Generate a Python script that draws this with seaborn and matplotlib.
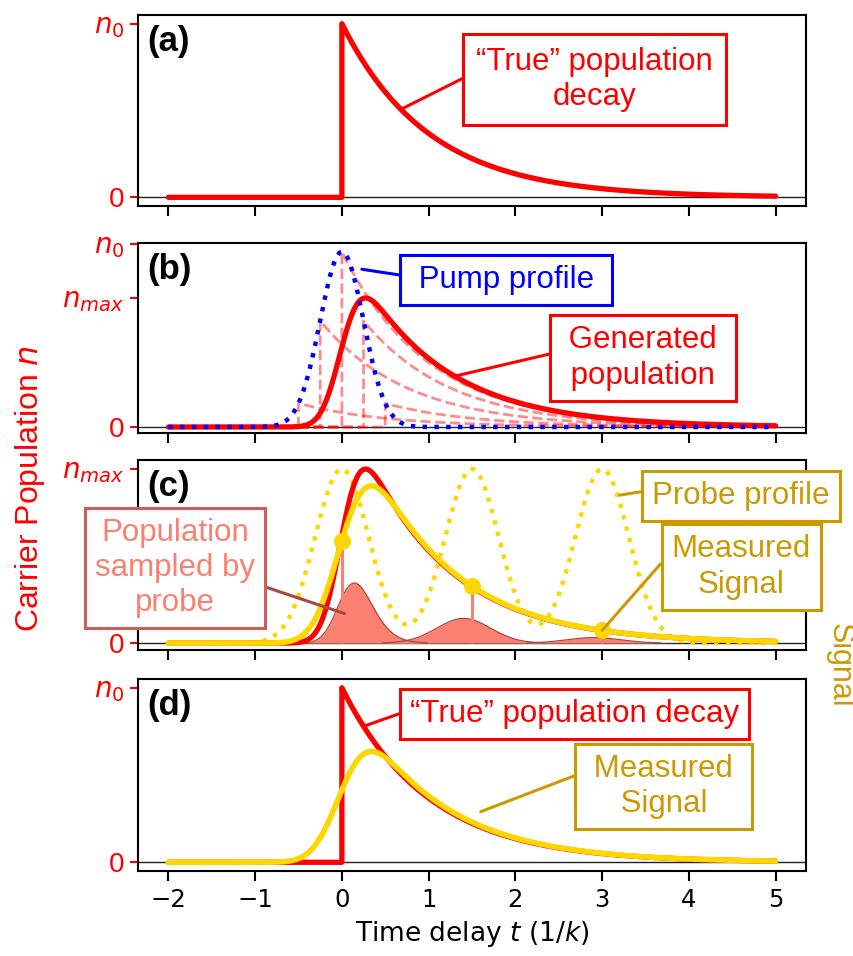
import math
import numpy as np
import matplotlib
matplotlib.use("Agg")
import matplotlib.pyplot as plt
import seaborn as sns

# ---------------- model parameters ----------------
decay_rate = 1.0                 # k
n0 = 1.0
pump_sigma = 0.18                # pump width used to generate the population
probe_sigma = 0.175              # probe width used to build the measured signal
pump_display_sigma = 0.25        # drawn pump profile width
pump_display_peak = 0.955
probe_display_sigma = 0.31       # drawn probe profile width
pump_slice_times = [-0.5, -0.25, 0.0, 0.25, 0.5]
probe_delays = [0.0, 1.5, 3.0]
sample_scale = 0.42
x_ticks = [-2, -1, 0, 1, 2, 3, 4, 5]
t_start, t_end = -2.0, 5.0
panel_labels = ["(a)", "(b)", "(c)", "(d)"]

RED = "#FF0000"
BLUE = "#0000FF"
GOLD = "#FFD700"
GOLD_TXT = "#CC9A00"
SALMON = "#FA8072"
SALMON_EDGE = "#CD5C5C"
FILL_EDGE = "#A8473F"

sns.set_style("ticks")
plt.rcParams["font.family"] = ["DejaVu Sans"]
plt.rcParams["mathtext.fontset"] = "dejavusans"
plt.rcParams["text.color"] = "black"
plt.rcParams["axes.labelcolor"] = "black"
plt.rcParams["xtick.color"] = "black"
ANN_FONT = "Liberation Sans"

erfc = np.vectorize(math.erfc)


def conv_decay(t, s):
    k = decay_rate
    return n0 * 0.5 * np.exp((k * s) ** 2 / 2 - k * t) * erfc((k * s ** 2 - t) / (s * np.sqrt(2)))


t = np.round(np.linspace(t_start, t_end, 1401), 6)
neg = t < 0
t_true = np.r_[t[neg], 0.0, t[~neg]]
y_true = np.r_[np.zeros(neg.sum()), 0.0, n0 * np.exp(-decay_rate * t[~neg])]

generated = conv_decay(t, pump_sigma)
n_max = generated.max()
sig_total = math.sqrt(pump_sigma ** 2 + probe_sigma ** 2)
signal = conv_decay(t, sig_total)

pump_profile = pump_display_peak * np.exp(-t ** 2 / (2 * pump_display_sigma ** 2))
probe_profile = n_max * sum(np.exp(-(t - d) ** 2 / (2 * probe_display_sigma ** 2)) for d in probe_delays)

fig = plt.figure(figsize=(8.54, 9.56), dpi=100)
left, width = 0.1616, 0.7822
bottoms = [0.7845, 0.547, 0.320, 0.0889]
heights = [0.1998, 0.1988, 0.1988, 0.2008]
axes = [fig.add_axes([left, b, width, h]) for b, h in zip(bottoms, heights)]


def style_axis(ax, yticks, ylabels, ylim, show_x):
    ax.set_xlim(t_start - 0.35, t_end + 0.35)
    ax.set_ylim(*ylim)
    ax.set_xticks(x_ticks)
    ax.set_xticklabels([f"\u2212{abs(v)}" if v < 0 else str(v) for v in x_ticks] if show_x else [])
    ax.set_yticks(yticks)
    ax.set_yticklabels(ylabels)
    for lbl in ax.get_yticklabels():
        lbl.set_fontfamily(ANN_FONT)
    ax.tick_params(axis="y", colors=RED, labelsize=20, length=6, width=1.5, pad=4)
    ax.tick_params(axis="x", colors="black", labelsize=17.5, length=7, width=1.5, pad=5)
    for sp in ax.spines.values():
        sp.set_linewidth(1.5)
        sp.set_color("black")
    ax.axhline(0, color="#222222", lw=1.0, zorder=1)
    ax.set_xlabel("")
    ax.set_ylabel("")


def box_note(ax, text, xy, xytext, color, relpos, ec=None, lc=None, fs=22.5, pad=0.32):
    ax.annotate(text, xy=xy, xycoords="data", xytext=xytext, textcoords="axes fraction",
                ha="center", va="center", fontsize=fs, color=color, family=ANN_FONT,
                linespacing=1.22,
                bbox=dict(boxstyle=f"square,pad={pad}", fc="white", ec=ec or color, lw=2.2),
                arrowprops=dict(arrowstyle="-", color=lc or ec or color, lw=2.2, relpos=relpos,
                                shrinkA=0, shrinkB=0),
                annotation_clip=False, zorder=20)


def panel_label(ax, s):
    ax.text(0.014, 0.95, s, transform=ax.transAxes, fontsize=25, fontweight="bold",
            family=ANN_FONT, color="black", va="top", ha="left", zorder=21)


# ---------------- (a) ----------------
ax = axes[0]
sns.lineplot(x=t_true, y=y_true, ax=ax, color=RED, linewidth=3.8, estimator=None, sort=False, zorder=3)
style_axis(ax, [0, n0], ["0", "$n_0$"], (-0.05, 1.05), False)
panel_label(ax, panel_labels[0])
box_note(ax, "\u201cTrue\u201d population\ndecay", (0.68, n0 * math.exp(-0.68)), (0.683, 0.662), RED,
         (0, 0.62), pad=0.42)

# ---------------- (b) ----------------
ax = axes[1]
for t0 in pump_slice_times:
    amp = pump_display_peak * math.exp(-t0 ** 2 / (2 * pump_display_sigma ** 2))
    seg = t[t >= pump_slice_times[0]]
    before = seg[seg < t0]
    after = seg[seg >= t0]
    xs = np.r_[before, t0, t0, after]
    ys = np.r_[np.zeros(before.size), 0.0, amp, amp * np.exp(-decay_rate * (after - t0))]
    sns.lineplot(x=xs, y=ys, ax=ax, color=RED, alpha=0.45, linewidth=2, linestyle="--",
                 estimator=None, sort=False, zorder=2)
sns.lineplot(x=t, y=generated, ax=ax, color=RED, linewidth=3.8, estimator=None, sort=False, zorder=3)
sns.lineplot(x=t, y=pump_profile, ax=ax, color=BLUE, linewidth=3.2, linestyle=":",
             estimator=None, sort=False, zorder=4)
style_axis(ax, [0, n_max, n0], ["0", "$n_{max}$", "$n_0$"], (-0.033, 1.003), False)
panel_label(ax, panel_labels[1])
box_note(ax, " Pump profile ", (0.23, 0.86), (0.551, 0.808), BLUE, (0, 0.6))
box_note(ax, " Generated \n population ", (1.3, float(conv_decay(np.array([1.3]), pump_sigma)[0])),
         (0.756, 0.395), RED, (0, 0.6))

# ---------------- (c) ----------------
ax = axes[2]
for d in probe_delays:
    sampled = generated * np.exp(-(t - d) ** 2 / (2 * probe_display_sigma ** 2)) * sample_scale
    ax.fill_between(t, 0, sampled, color=SALMON, lw=0, zorder=2)
    m = sampled > 1e-3
    sns.lineplot(x=t[m], y=sampled[m], ax=ax, color=FILL_EDGE, linewidth=0.9, estimator=None,
                 sort=False, zorder=2.2)
    sig_d = float(conv_decay(np.array([d]), sig_total)[0])
    ax.vlines(d, 0, sig_d, color=SALMON, lw=2.2, zorder=2.5)
sns.lineplot(x=t, y=probe_profile, ax=ax, color=GOLD, linewidth=3.2, linestyle=":",
             estimator=None, sort=False, zorder=2.6)
sns.lineplot(x=t, y=generated, ax=ax, color=RED, linewidth=3.8, estimator=None, sort=False, zorder=3)
sns.lineplot(x=t, y=signal, ax=ax, color=GOLD, linewidth=4.0, estimator=None, sort=False, zorder=4)
marker_y = conv_decay(np.array(probe_delays), sig_total)
sns.scatterplot(x=probe_delays, y=marker_y, ax=ax, color=GOLD, s=150, linewidth=0, zorder=5)
style_axis(ax, [0, n_max], ["0", "$n_{max}$"], (-0.04 * n_max, 1.052 * n_max), False)
panel_label(ax, panel_labels[2])
box_note(ax, "Probe profile", (3.2, 0.85 * n_max), (0.903, 0.811), GOLD_TXT, (0, 0.7))
box_note(ax, "Measured\nSignal", (probe_delays[2], float(marker_y[2])), (0.903, 0.437), GOLD_TXT, (0, 0.74))
box_note(ax, "Population\nsampled by\nprobe", (0.03, 0.17 * n_max), (0.056, 0.434), SALMON, (1, 0.34),
         ec=SALMON_EDGE, lc=FILL_EDGE)

# ---------------- (d) ----------------
ax = axes[3]
sns.lineplot(x=t_true, y=y_true, ax=ax, color=RED, linewidth=3.8, estimator=None, sort=False, zorder=3)
sns.lineplot(x=t, y=signal, ax=ax, color=GOLD, linewidth=4.0, estimator=None, sort=False, zorder=4)
style_axis(ax, [0, n0], ["0", "$n_0$"], (-0.05, 1.05), True)
panel_label(ax, panel_labels[3])
box_note(ax, "\u201cTrue\u201d population decay", (0.25, n0 * math.exp(-0.25)), (0.653, 0.82), RED, (0, 0.62))
box_note(ax, " Measured \n Signal ", (1.6, 0.29), (0.787, 0.44), GOLD_TXT, (0, 0.73))
ax.set_xlabel("Time delay $t$ (1/$k$)", fontsize=19, labelpad=5, color="black")

fig.text(0.035, 0.489, "Carrier Population $n$", rotation=90, color=RED, fontsize=23,
         family=ANN_FONT, ha="center", va="center")
fig.text(0.983, 0.304, "Signal", rotation=-90, color=GOLD_TXT, fontsize=22,
         family=ANN_FONT, ha="center", va="center")

fig.savefig("out.png", dpi=100, facecolor="white")
